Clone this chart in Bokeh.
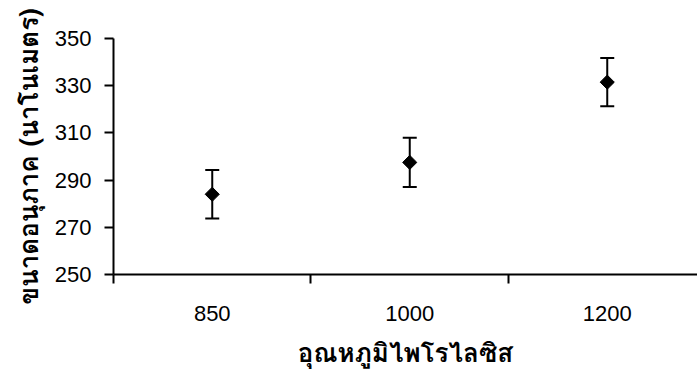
import numpy as np
from bokeh.plotting import figure
from bokeh.models import ColumnDataSource, Whisker, FixedTicker, Range1d, TeeHead
from bokeh.embed import file_html
from bokeh.resources import INLINE

# ---- data ----
categories = ["850", "1000", "1200"]
sizes = [284.0, 297.5, 331.5]
errors = [10.3, 10.4, 10.2]
y_ticks = [250, 270, 290, 310, 330, 350]

x_pos = [i + 0.5 for i in range(len(categories))]
lower = [v - e for v, e in zip(sizes, errors)]
upper = [v + e for v, e in zip(sizes, errors)]
src = ColumnDataSource(dict(x=x_pos, y=sizes, lower=lower, upper=upper))

p = figure(width=697, height=376, output_backend="svg", toolbar_location=None,
           x_range=Range1d(0, 2.957), y_range=Range1d(250, 350),
           min_border_left=113, min_border_right=0, min_border_top=38, min_border_bottom=102)
p.outline_line_color = None
p.xgrid.visible = False
p.ygrid.visible = False
p.background_fill_color = "white"
p.border_fill_color = "white"

w = Whisker(base="x", lower="lower", upper="upper", source=src, line_width=2, line_color="black",
            upper_head=TeeHead(size=14, line_width=2, line_color="black"),
            lower_head=TeeHead(size=14, line_width=2, line_color="black"))
p.add_layout(w)
p.scatter("x", "y", source=src, marker="square", size=10, angle=np.pi / 4,
          fill_color="black", line_color="black")

tick_font = "Liberation Sans"
title_font = "Tahoma, Loma, Garuda, Noto Sans Thai, Liberation Sans, sans-serif"

xa = p.xaxis[0]
xa.ticker = FixedTicker(ticks=x_pos, minor_ticks=[0, 1, 2, 3])
xa.major_label_overrides = {x: c for x, c in zip(x_pos, categories)}
xa.major_tick_out = 0
xa.major_tick_in = 0
xa.minor_tick_out = 9
xa.minor_tick_in = 0
xa.minor_tick_line_width = 2
xa.axis_line_width = 2
xa.major_label_standoff = 22
xa.major_label_text_font = tick_font
xa.major_label_text_font_size = "22px"
xa.major_label_text_color = "black"
xa.axis_label = "อุณหภูมิไพโรไลซิส"
xa.axis_label_text_font = title_font
xa.axis_label_text_font_style = "bold"
xa.axis_label_text_font_size = "26px"
xa.axis_label_text_color = "black"
xa.axis_label_standoff = 8

ya = p.yaxis[0]
ya.ticker = FixedTicker(ticks=y_ticks, minor_ticks=[])
ya.major_tick_out = 9
ya.major_tick_in = 0
ya.major_tick_line_width = 2
ya.axis_line_width = 2
ya.major_label_standoff = 13
ya.major_label_text_font = tick_font
ya.major_label_text_font_size = "22px"
ya.major_label_text_color = "black"
ya.axis_label = "ขนาดอนุภาค (นาโนเมตร)"
ya.axis_label_text_font = title_font
ya.axis_label_text_font_style = "bold"
ya.axis_label_text_font_size = "26px"
ya.axis_label_text_color = "black"
ya.axis_label_standoff = 3

open("out.html", "w").write(file_html(p, INLINE))
